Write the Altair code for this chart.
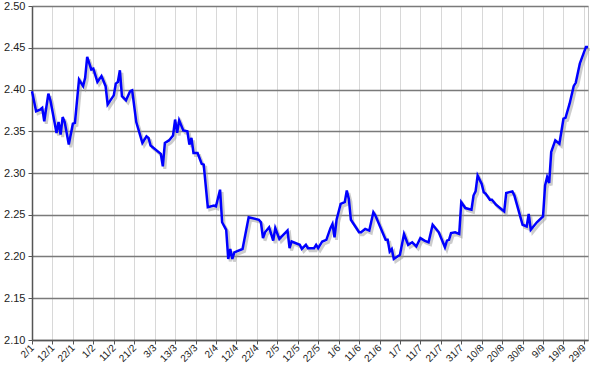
import altair as alt
import pandas as pd

dates = [
    "01-02","01-04","01-06","01-07","01-08","01-10","01-11","01-14","01-15","01-16",
    "01-17","01-18","01-20","01-22","01-23","01-25","01-27","01-28","01-29","01-31",
    "02-01","02-03","02-05","02-07","02-08","02-11","02-12","02-13","02-14","02-15",
    "02-17","02-19","02-20","02-22","02-25","02-27","02-28","03-01","03-06","03-07",
    "03-08","03-10","03-12","03-13","03-14","03-15","03-17","03-19","03-20","03-21",
    "03-22","03-24","03-26","03-27","03-29","04-01","04-02","04-04","04-05","04-07",
    "04-08","04-09","04-10","04-11","04-15","04-18","04-23","04-24","04-25","04-26",
    "04-28","04-30","05-01","05-03","05-07","05-08","05-09","05-13","05-14","05-16",
    "05-17","05-20","05-21","05-22","05-24","05-26","05-28","05-29","05-30","05-31",
    "06-02","06-04","06-05","06-06","06-07","06-11","06-12","06-14","06-16","06-18",
    "06-19","06-24","06-25","06-26","06-27","06-28","07-01","07-03","07-05","07-07",
    "07-09","07-11","07-13","07-15","07-17","07-20","07-23","07-24","07-25","07-26",
    "07-28","07-30","07-31","08-02","08-05","08-06","08-07","08-08","08-10","08-11",
    "08-12","08-14","08-15","08-17","08-20","08-21","08-22","08-25","08-26","08-30",
    "09-01","09-02","09-03","09-06","09-09","09-10","09-11","09-12","09-13","09-15",
    "09-17","09-19","09-20","09-22","09-24","09-25","09-27","09-30","10-01",
]
values = [
    2.398,2.374,2.376,2.378,2.362,2.395,2.387,2.348,2.361,2.346,
    2.367,2.361,2.334,2.359,2.360,2.412,2.404,2.414,2.439,2.424,
    2.425,2.409,2.416,2.404,2.382,2.393,2.407,2.409,2.423,2.392,
    2.387,2.398,2.399,2.361,2.336,2.344,2.342,2.333,2.323,2.308,
    2.336,2.339,2.345,2.364,2.348,2.363,2.351,2.350,2.334,2.342,
    2.324,2.324,2.311,2.310,2.259,2.261,2.260,2.280,2.241,2.232,
    2.197,2.209,2.197,2.205,2.209,2.247,2.244,2.241,2.222,2.229,
    2.235,2.219,2.234,2.221,2.231,2.210,2.218,2.214,2.209,2.214,
    2.210,2.210,2.214,2.210,2.218,2.220,2.234,2.239,2.223,2.244,
    2.263,2.265,2.279,2.269,2.244,2.229,2.229,2.233,2.231,2.253,
    2.249,2.220,2.220,2.206,2.209,2.197,2.202,2.227,2.214,2.217,
    2.212,2.222,2.219,2.217,2.238,2.229,2.211,2.219,2.220,2.228,
    2.229,2.227,2.265,2.258,2.256,2.273,2.278,2.297,2.287,2.277,
    2.275,2.268,2.268,2.262,2.256,2.254,2.276,2.278,2.273,2.238,
    2.236,2.251,2.232,2.241,2.248,2.285,2.295,2.288,2.325,2.339,
    2.335,2.365,2.366,2.383,2.404,2.408,2.431,2.451,2.451,
]
tick_dates = [
    "01-02","01-12","01-22","02-01","02-11","02-21","03-03","03-13","03-23","04-02",
    "04-12","04-22","05-02","05-12","05-22","06-01","06-11","06-21","07-01","07-11",
    "07-21","07-31","08-10","08-20","08-30","09-09","09-19","09-29",
]
y_ticks = [2.10, 2.15, 2.20, 2.25, 2.30, 2.35, 2.40, 2.45, 2.50]
year = "2021"

def to_ms(md):
    return int(pd.Timestamp(f"{year}-{md}", tz="UTC").value // 10**6)

df = pd.DataFrame({"date": [f"{year}-{d}" for d in dates], "value": values})
tick_ms = [to_ms(d) for d in tick_dates]
domain = [to_ms(dates[0]), to_ms(dates[-1])]

FONT = "Liberation Sans"

x_enc = alt.X(
    "date:T",
    scale=alt.Scale(type="utc", domain=domain, nice=False),
    axis=alt.Axis(
        values=tick_ms,
        labelExpr="utcFormat(datum.value, '%-d/%-m')",
        labelAngle=-45,
        labelAlign="right",
        labelBaseline="middle",
        labelFont=FONT,
        labelFontSize=10,
        labelColor="#222",
        labelPadding=2,
        title=None,
        grid=True,
        gridColor="#b0b0b0",
        gridDash=[1, 1],
        gridWidth=1,
        domainColor="#555",
        domainWidth=1.5,
        tickColor="#555",
        tickSize=4,
        labelOverlap=False,
    ),
)
y_enc = alt.Y(
    "value:Q",
    scale=alt.Scale(domain=[2.10, 2.50], nice=False, zero=False),
    axis=alt.Axis(
        values=y_ticks,
        format=".2f",
        labelFont=FONT,
        labelFontSize=11,
        labelColor="#222",
        labelPadding=3,
        title=None,
        grid=True,
        gridColor="#7a7a7a",
        gridWidth=1.5,
        domainColor="#555",
        domainWidth=1.5,
        tickColor="#555",
        tickSize=4,
    ),
)

shadow = alt.Chart(df).mark_line(
    color="#999999", strokeWidth=3, opacity=0.5, xOffset=2, yOffset=2.5
).encode(x=x_enc, y=y_enc)

line = alt.Chart(df).mark_line(color="#0000ff", strokeWidth=2.5).encode(x=x_enc, y=y_enc)

chart = (
    alt.layer(shadow, line)
    .properties(
        width=556,
        height=334,
        autosize=alt.AutoSizeParams(type="none"),
        padding={"left": 32, "top": 6, "right": 12, "bottom": 31},
        background="white",
    )
    .configure_view(stroke="#c8c8c8", strokeWidth=1)
)

chart.save("out.html", embed_options={"renderer": "svg", "actions": False})
